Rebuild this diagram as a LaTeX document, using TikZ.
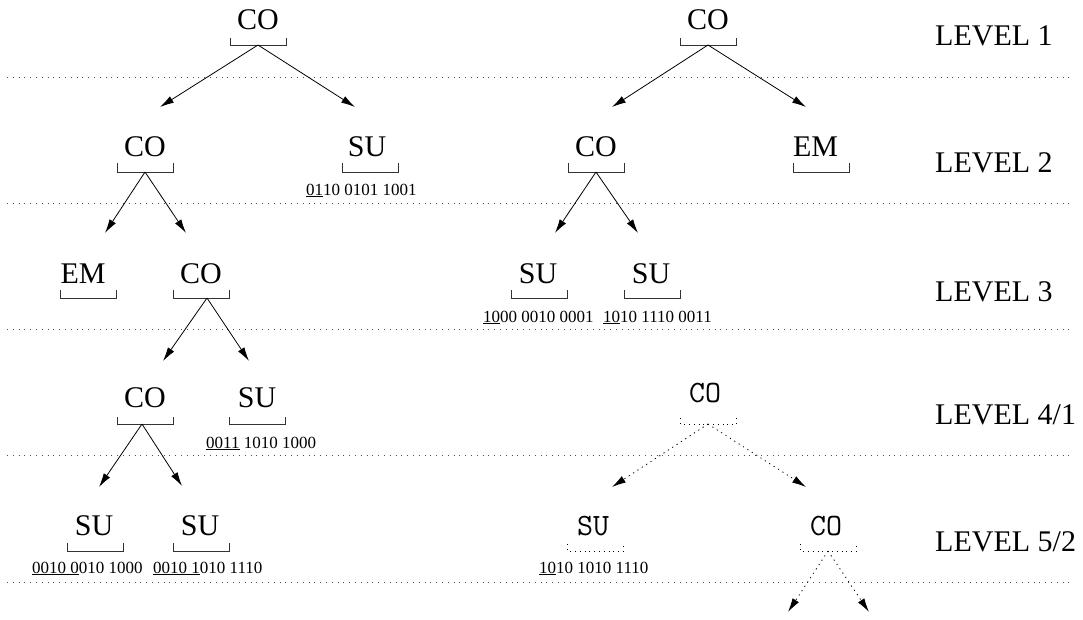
\documentclass[tikz,border=0pt]{standalone}
\usepackage{fontspec}
\setmainfont{Liberation Serif}
\usetikzlibrary{arrows.meta,calc}
\begin{document}
\begin{tikzpicture}[x=1pt,y=-1pt,
  tn/.style={anchor=base,inner sep=0pt,font=\fontsize{30}{30}\selectfont},
  mn/.style={anchor=base,inner sep=0pt,font=\ttfamily\fontsize{31}{31}\selectfont},
  bits/.style={anchor=base west,inner sep=0pt,font=\fontsize{17}{17}\selectfont},
  lvl/.style={anchor=base west,inner sep=0pt,font=\fontsize{30}{30}\selectfont},
  brk/.style={line width=0.8pt,draw=black!80},
  dbrk/.style={line width=0.8pt,dash pattern=on 0.8pt off 4pt},
  sep/.style={line width=0.8pt,draw=black!70,dash pattern=on 0.8pt off 5pt},
  arr/.style={line width=0.8pt,-{Latex[length=14pt,width=7.5pt]}},
  darr/.style={line width=0.8pt,dash pattern=on 1.2pt off 4pt,-{Latex[length=14pt,width=7.5pt]}}]
\useasboundingbox (0,0) rectangle (1083,619);
% separators
\foreach \yy in {77,203,329,455,582} \draw[sep] (7,\yy) -- (1074,\yy);
% level labels
\node[lvl] (lv1) at (935,45) {LEVEL 1};
\node[lvl] (lv2) at (935,172) {LEVEL 2};
\node[lvl] (lv3) at (935,301) {LEVEL 3};
\node[lvl] (lv4) at (935,424) {LEVEL 4/1};
\node[lvl] (lv5) at (935,551) {LEVEL 5/2};
% bracket macro: center x, top y, bottom y
\newcommand{\brkt}[4][brk]{\draw[#1] (#2-28,#3) -- (#2-28,#4) -- (#2+28,#4) -- (#2+28,#3);}
% ---------- left tree ----------
\node[tn] (L1) at (258,29) {CO};   \brkt{258}{38}{45}
\node[tn] (L2a) at (145,156) {CO}; \brkt{145}{163}{172}
\node[tn] (L2b) at (367,156) {SU}; \brkt{370}{163}{172}
\node[bits] (L2bb) at (306,195) {\underline{01}10 0101 1001};
\node[tn] (L3a) at (83,283) {EM};  \brkt{88.5}{290}{298}
\node[tn] (L3b) at (201,283) {CO}; \brkt{201}{290}{298}
\node[tn] (L4a) at (145,407) {CO}; \brkt{145}{417}{424}
\node[tn] (L4b) at (257,407) {SU}; \brkt{257.5}{417}{424}
\node[bits] (L4bb) at (206,448) {\underline{0011} 1010 1000};
\node[tn] (L5a) at (94,535) {SU};  \brkt{95.5}{543}{551}
\node[tn] (L5b) at (200,535) {SU}; \brkt{201}{543}{551}
\node[bits] (L5ab) at (32,573) {\underline{0010 0}010 1000};
\node[bits] (L5bb) at (153,573) {\underline{0010 1}010 1110};
% apexes and arrow ends
\coordinate (L1x) at (258,45);  \coordinate (L1l) at (160,107); \coordinate (L1r) at (355,107);
\coordinate (L2x) at (145,172); \coordinate (L2l) at (105,233); \coordinate (L2r) at (186,233);
\coordinate (L3x) at (207,298); \coordinate (L3l) at (163,361); \coordinate (L3r) at (249,361);
\coordinate (L4x) at (142,424); \coordinate (L4l) at (99,487);  \coordinate (L4r) at (182,486);
\draw[arr] (L1x) -- (L1l); \draw[arr] (L1x) -- (L1r);
\draw[arr] (L2x) -- (L2l); \draw[arr] (L2x) -- (L2r);
\draw[arr] (L3x) -- (L3l); \draw[arr] (L3x) -- (L3r);
\draw[arr] (L4x) -- (L4l); \draw[arr] (L4x) -- (L4r);
% ---------- right tree ----------
\node[tn] (R1) at (708,29) {CO};   \brkt{708.5}{38}{45}
\node[tn] (R2a) at (596,156) {CO}; \brkt{596}{163}{172}
\node[tn] (R2b) at (815.5,156) {EM}; \brkt{821}{163}{172}
\node[tn] (R3a) at (538,283) {SU}; \brkt{539.5}{290}{298}
\node[tn] (R3b) at (651,283) {SU}; \brkt{652}{290}{298}
\node[bits] (R3ab) at (483,322) {\underline{10}00 0010 0001};
\node[bits] (R3bb) at (603,322) {\underline{10}10 1110 0011};
\node[mn] (R4) at (705,402) {CO};  \brkt[dbrk]{708.5}{418}{424}
\node[mn] (R5a) at (593,535) {SU}; \brkt[dbrk]{595.5}{544}{551}
\node[mn] (R5b) at (826,535) {CO}; \brkt[dbrk]{828.5}{544}{551}
\node[bits] (R5ab) at (539,573) {\underline{10}10 1010 1110};
\coordinate (R1x) at (708,45);  \coordinate (R1l) at (612,107); \coordinate (R1r) at (806,107);
\coordinate (R2x) at (596,172); \coordinate (R2l) at (555,233); \coordinate (R2r) at (638,233);
\coordinate (R4x) at (708,424); \coordinate (R4l) at (612,487); \coordinate (R4r) at (806,487);
\coordinate (R5x) at (828,551); \coordinate (R5l) at (788,612); \coordinate (R5r) at (869,612);
\draw[arr] (R1x) -- (R1l); \draw[arr] (R1x) -- (R1r);
\draw[arr] (R2x) -- (R2l); \draw[arr] (R2x) -- (R2r);
\draw[darr] (R4x) -- (R4l); \draw[darr] (R4x) -- (R4r);
\draw[darr] (R5x) -- (R5l); \draw[darr] (R5x) -- (R5r);
\end{tikzpicture}
\end{document}
